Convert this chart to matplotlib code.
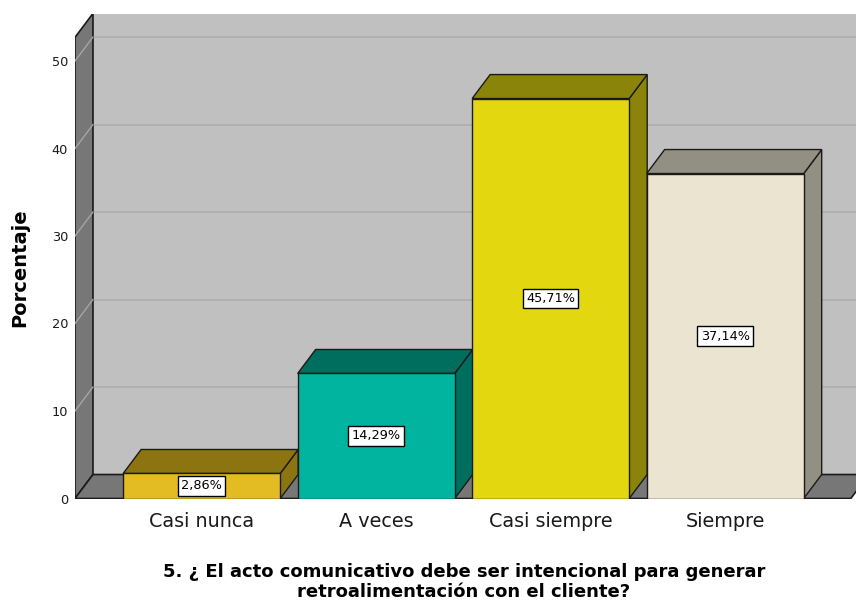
import matplotlib
matplotlib.use("Agg")
import matplotlib.pyplot as plt
from matplotlib.patches import Polygon, Rectangle

plt.rcParams['font.family'] = ['DejaVu Sans']

categories = ["Casi nunca", "A veces", "Casi siempre", "Siempre"]
percentages = [2.86, 14.29, 45.71, 37.14]
value_labels = ["2,86%", "14,29%", "45,71%", "37,14%"]
yticks = [0, 10, 20, 30, 40, 50]

front_colors = ["#E2BC22", "#00B4A0", "#E3D70F", "#EAE4D0"]
shade_colors = ["#8C7511", "#006E5F", "#8B840A", "#929083"]

# geometry of the pseudo-3D box (data units)
BAR_W = 0.9
DX = 0.103          # depth offset along x (category units)
DY = 2.74           # depth offset along y (percent units)
X0, X1 = -0.726, 3.72
YTOP = 52.7

fig = plt.figure(figsize=(8.56, 6.03), dpi=100)
W, H = 856, 603
left_px, right_px, bottom_px, top_px = 75, 856, 498.5, 14
ax = fig.add_axes([left_px / W, 1 - bottom_px / H,
                   (right_px - left_px) / W, (bottom_px - top_px) / H])
ax.set_xlim(X0, X0 + (right_px - left_px) / 174.5)
ax.set_ylim(0, (bottom_px - top_px) / 8.75)
ax.patch.set_visible(False)
for s in ax.spines.values():
    s.set_visible(False)

edge = "#1a1a1a"

# back wall
ax.add_patch(Rectangle((X0 + DX, DY), 10, YTOP, facecolor="#C0C0C0",
                       edgecolor="none", zorder=1))
ax.plot([X0 + DX, X1 + 2], [YTOP + DY, YTOP + DY], color=edge, lw=1.2, zorder=6)
for t in yticks[1:]:
    ax.plot([X0 + DX, X1 + 2], [t + DY, t + DY], color="#ADADAD", lw=1.2, zorder=2)

# left wall
ax.add_patch(Polygon([(X0, 0), (X0, YTOP), (X0 + DX, YTOP + DY), (X0 + DX, DY)],
                     closed=True, facecolor="#777777", edgecolor=edge, lw=1.2, zorder=3))
for t in yticks[1:]:
    ax.plot([X0, X0 + DX], [t, t + DY], color="#A5A5A5", lw=1.0, zorder=4)

# floor
ax.add_patch(Polygon([(X0, 0), (X1, 0), (X1 + DX, DY), (X0 + DX, DY)],
                     closed=True, facecolor="#777777", edgecolor=edge, lw=1.2, zorder=3))

# bars
for i, (v, fc, sc, lab) in enumerate(zip(percentages, front_colors, shade_colors, value_labels)):
    l, r = i - BAR_W / 2, i + BAR_W / 2
    z = 10 + i
    ax.add_patch(Polygon([(r, 0), (r + DX, DY), (r + DX, v + DY), (r, v)], closed=True,
                         facecolor=sc, edgecolor=edge, lw=1.0, zorder=z))
    ax.add_patch(Polygon([(l, v), (l + DX, v + DY), (r + DX, v + DY), (r, v)], closed=True,
                         facecolor=sc, edgecolor=edge, lw=1.0, zorder=z))
    ax.add_patch(Rectangle((l, 0), BAR_W, v, facecolor=fc, edgecolor=edge,
                           lw=1.0, zorder=z + 0.5))
    ax.text(i, v / 2, lab, ha="center", va="center", fontsize=9.3, color="black",
            zorder=20, bbox=dict(boxstyle="square,pad=0.25", facecolor="white",
                                 edgecolor="black", lw=1.0))

# axis ticks and labels
ax.set_yticks(yticks)
ax.set_yticklabels([str(t) for t in yticks], fontsize=9.3, color="#1a1a1a")
ax.tick_params(axis="y", length=0, pad=5)
for lbl in ax.get_yticklabels():
    lbl.set_va("center_baseline")
ax.set_xticks(range(len(categories)))
ax.set_xticklabels(categories, fontsize=13.8, color="#1a1a1a")
ax.tick_params(axis="x", length=0, pad=10)

fig.text(20 / W, 1 - 267.5 / H, "Porcentaje", rotation=90, ha="center", va="center",
         fontsize=14, fontweight="bold", color="black")

fig.text(464 / W, 1 - 582 / H,
         "5. ¿ El acto comunicativo debe ser intencional para generar\nretroalimentación con el cliente?",
         ha="center", va="center", fontsize=13, fontweight="bold",
         color="black", linespacing=1.15)

fig.savefig("out.png", dpi=100)
